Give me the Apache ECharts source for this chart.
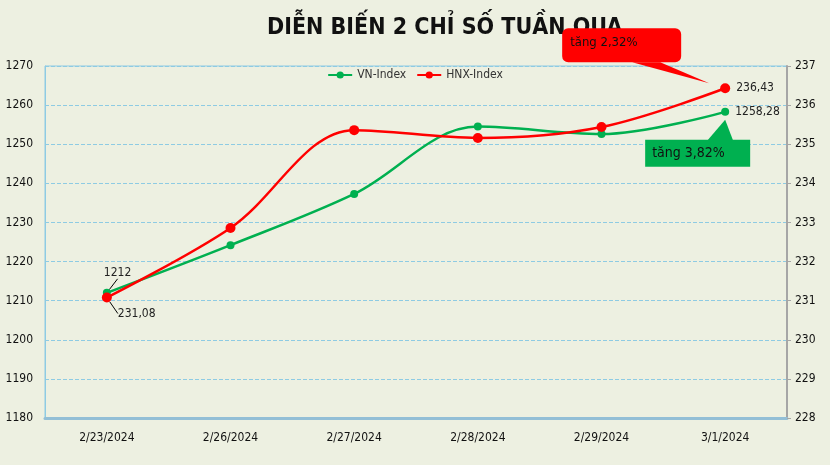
<!DOCTYPE html>
<html><head><meta charset="utf-8">
<script src="https://cdn.jsdelivr.net/npm/echarts@6/dist/echarts.min.js"></script>
<style>html,body{margin:0;padding:0;background:#EDF0E1;}#c{width:830px;height:465px;}</style>
</head><body><div id="c"></div>
<script>
var categories = ['2/23/2024','2/26/2024','2/27/2024','2/28/2024','2/29/2024','3/1/2024'];
var vnIndex = [1212, 1224.2, 1237.3, 1254.5, 1252.6, 1258.28];
var hnxIndex = [231.08, 232.86, 235.36, 235.16, 235.44, 236.43];
var leftTicks = {min:1180, max:1270, interval:10};
var rightTicks = {min:228, max:237, interval:1};
var titleText = 'DIỄN BIẾN 2 CHỈ SỐ TUẦN QUA';
var vnNote = 'tăng 3,82%';
var hnxNote = 'tăng 2,32%';

var FONT = '"Liberation Sans Narrow","DejaVu Sans Condensed",sans-serif';
function fmt(v){ return String(v).replace('.', ','); }

function buildData(arr){
  var n = arr.length-1;
  return arr.map(function(v,i){
    if(i===0) return {value:v,label:{show:true},labelLine:{show:true}};
    if(i===n) return {value:v,label:{show:true},labelLine:{show:false}};
    return {value:v,label:{show:false},labelLine:{show:false}};
  });
}

var chart = echarts.init(document.getElementById('c'));
var option = {
  backgroundColor:'#EDF0E1',
  animation:false,
  title:{text:titleText,left:262,top:12,textStyle:{fontFamily:FONT,fontSize:23,fontWeight:'bold',color:'#111'}},
  legend:{top:64,left:'center',itemWidth:24,itemHeight:9,itemGap:10,
    textStyle:{fontFamily:FONT,fontSize:12,color:'#333'},
    data:['VN-Index','HNX-Index']},
  grid:{left:45,right:43,top:66,bottom:47,show:true,borderColor:'#8ECBE3',borderWidth:1,backgroundColor:'transparent'},
  xAxis:{type:'category',data:categories,boundaryGap:true,
    axisLine:{lineStyle:{color:'#93BFD6',width:3}},axisTick:{show:false},
    axisLabel:{fontFamily:FONT,fontSize:12,color:'#111',margin:14}},
  yAxis:[
    {type:'value',min:leftTicks.min,max:leftTicks.max,interval:leftTicks.interval,position:'left',
     axisLine:{show:true,lineStyle:{color:'#8ECBE3',width:1}},axisTick:{show:false},
     axisLabel:{fontFamily:FONT,fontSize:12,color:'#111',margin:12,formatter:function(v){return String(v);}},
     splitLine:{show:true,lineStyle:{color:'#8ECBE3',type:'dashed',width:1}}},
    {type:'value',min:rightTicks.min,max:rightTicks.max,interval:rightTicks.interval,position:'right',
     axisLine:{show:true,lineStyle:{color:'#A6A6A6',width:2}},axisTick:{show:true,length:4,lineStyle:{color:'#A6A6A6'}},
     axisLabel:{fontFamily:FONT,fontSize:12,color:'#111',margin:8,formatter:function(v){return String(v);}},
     splitLine:{show:false}}
  ],
  series:[
    {name:'VN-Index',type:'line',yAxisIndex:0,data:buildData(vnIndex),smooth:0.35,
     symbol:'circle',symbolSize:8,itemStyle:{color:'#00B050'},lineStyle:{color:'#00B050',width:2.5},
     z:3,
     label:{position:'right',distance:6,fontFamily:FONT,fontSize:12,color:'#222',
       formatter:function(p){return fmt(p.value);}},
     labelLine:{lineStyle:{color:'#000',width:1}},
     labelLayout:function(p){ if(p.dataIndex===0){return {dx:-13,dy:-20};} return {}; }
    },
    {name:'HNX-Index',type:'line',yAxisIndex:1,data:buildData(hnxIndex),smooth:0.35,
     symbol:'circle',symbolSize:10,itemStyle:{color:'#FF0000'},lineStyle:{color:'#FF0000',width:2.5},
     z:4,
     label:{position:'right',distance:6,fontFamily:FONT,fontSize:12,color:'#222',
       formatter:function(p){return fmt(p.value);}},
     labelLine:{lineStyle:{color:'#000',width:1}},
     labelLayout:function(p){ if(p.dataIndex===0){return {dx:0,dy:16};} return {}; }
    }
  ]
};
chart.setOption(option);

// callouts anchored to last data points
var n = categories.length-1;
var pH = chart.convertToPixel({xAxisIndex:0,yAxisIndex:1},[n,hnxIndex[n]]);
var pV = chart.convertToPixel({xAxisIndex:0,yAxisIndex:0},[n,vnIndex[n]]);
chart.setOption({graphic:[
  {type:'polygon',z:10,shape:{points:[[pH[0]-93,pH[1]-26],[pH[0]-65,pH[1]-26],[pH[0]-16,pH[1]-5]]},style:{fill:'#FF0000'}},
  {type:'rect',z:10,shape:{x:pH[0]-163,y:pH[1]-60,width:119,height:34,r:6},style:{fill:'#FF0000'}},
  {type:'text',z:11,x:pH[0]-155,y:pH[1]-46,style:{text:hnxNote,font:'13px '+FONT,fill:'#111',verticalAlign:'middle'}},
  {type:'polygon',z:10,shape:{points:[[pV[0]-18,pV[1]+29],[pV[0]+8,pV[1]+29],[pV[0],pV[1]+8]]},style:{fill:'#00B050'}},
  {type:'rect',z:10,shape:{x:pV[0]-80,y:pV[1]+28,width:105,height:27},style:{fill:'#00B050'}},
  {type:'text',z:11,x:pV[0]-73,y:pV[1]+42,style:{text:vnNote,font:'14px '+FONT,fill:'#111',verticalAlign:'middle'}}
]});
</script></body></html>
